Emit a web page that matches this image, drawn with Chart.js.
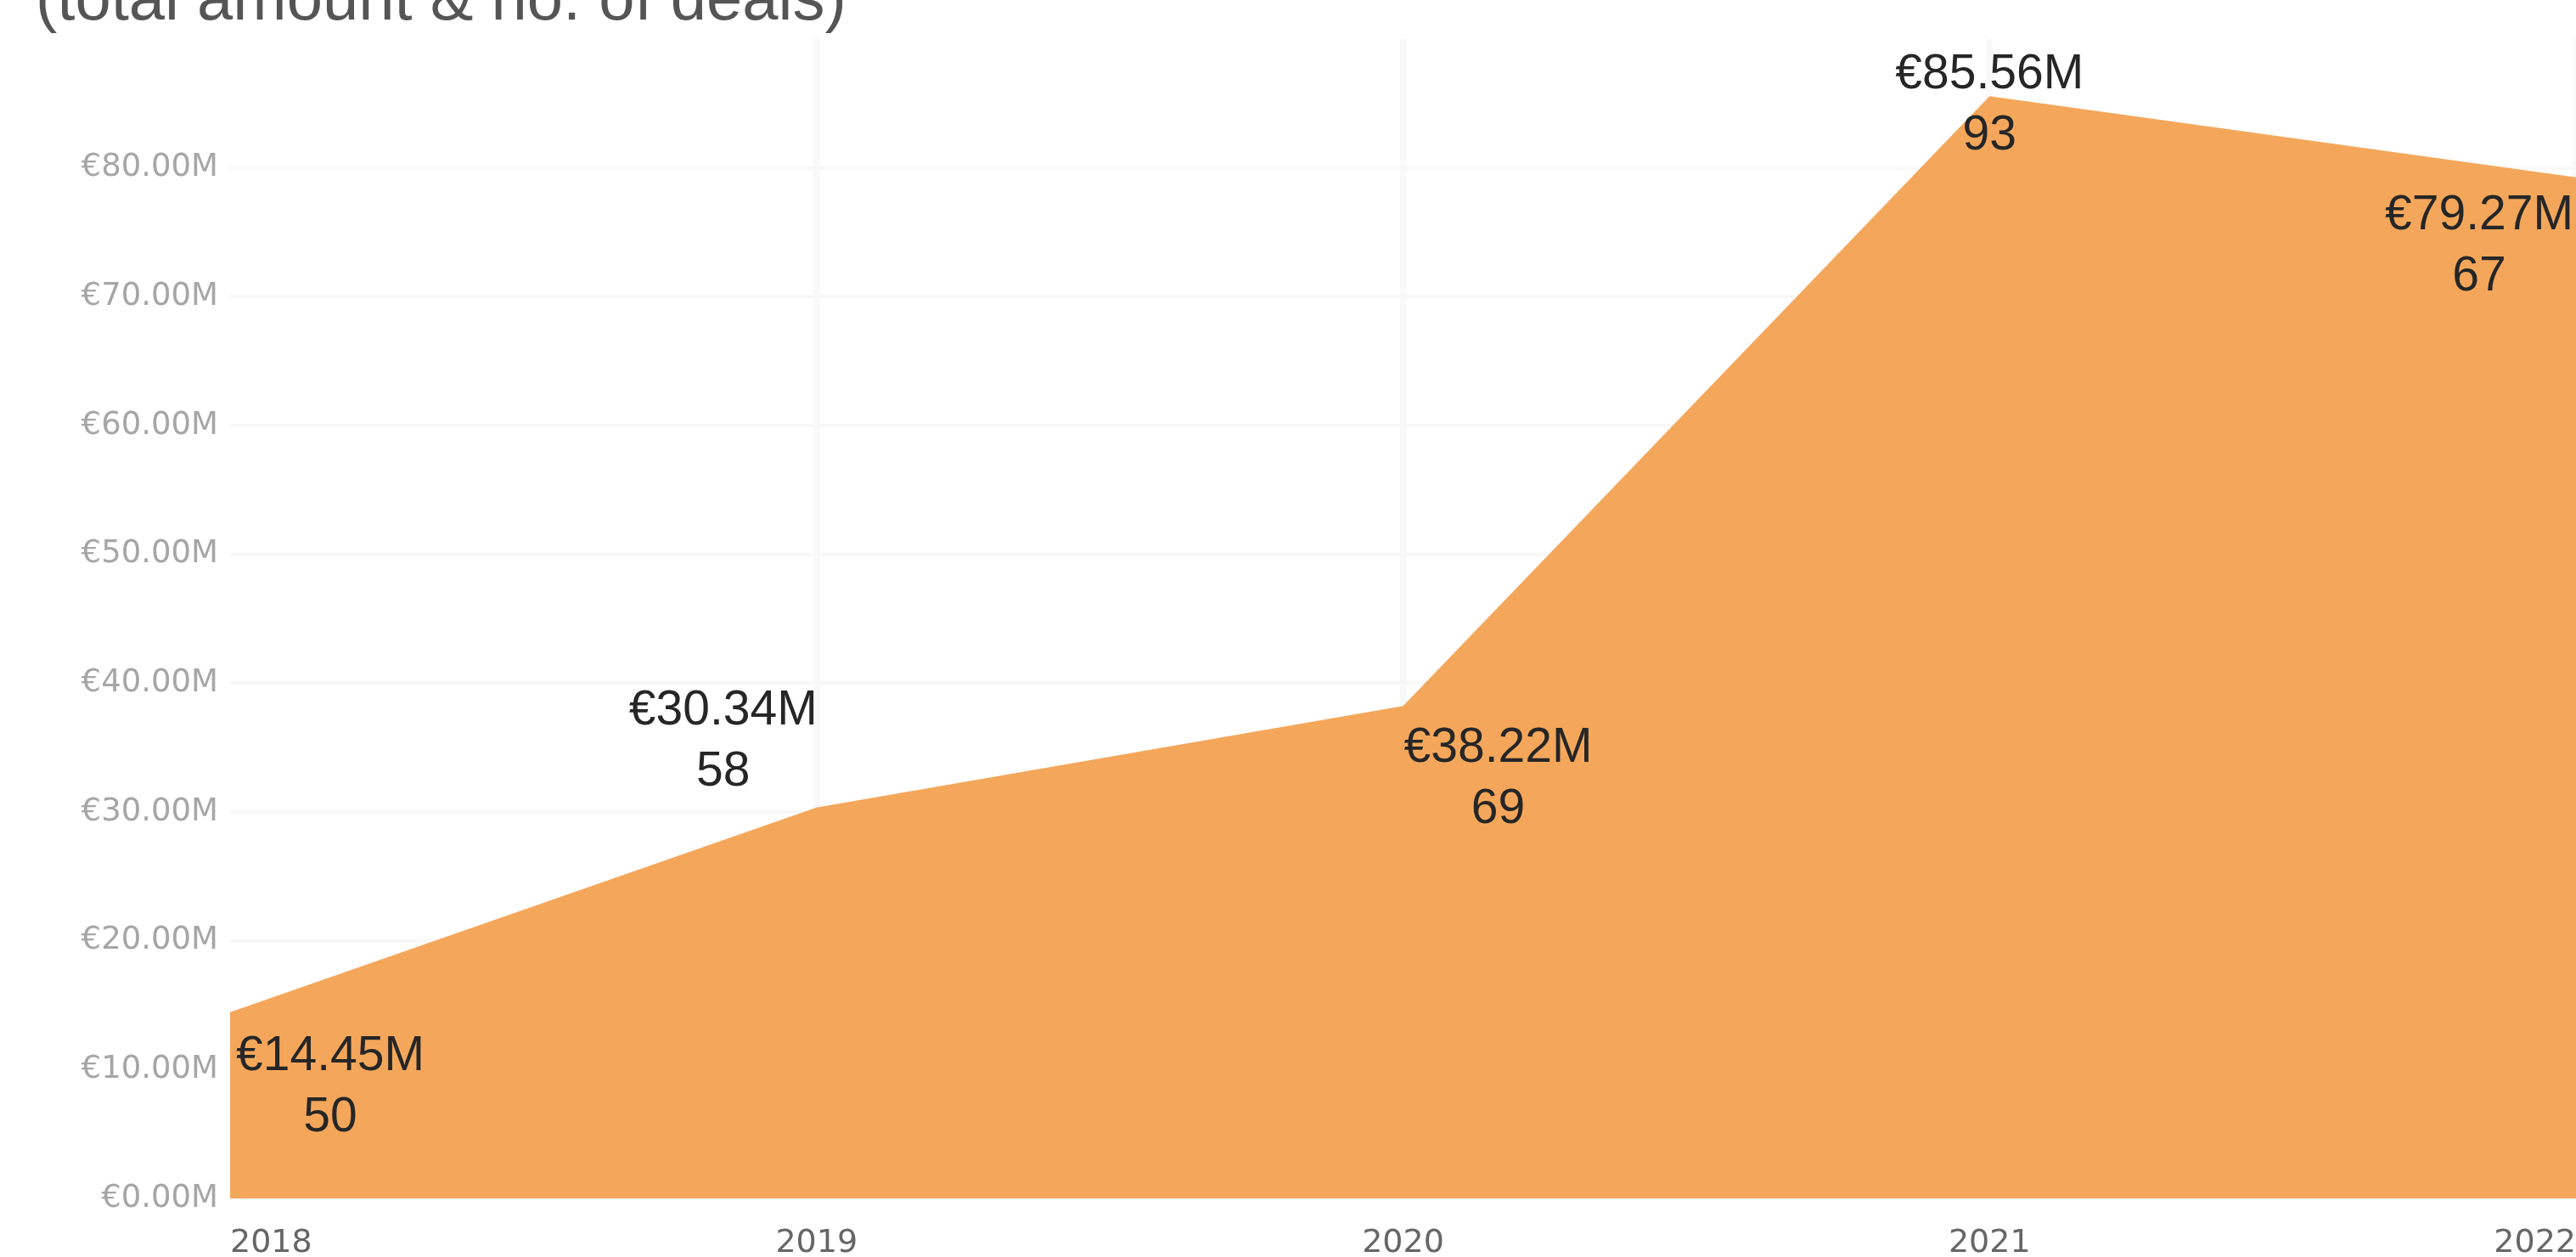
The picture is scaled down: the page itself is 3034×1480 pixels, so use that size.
<!DOCTYPE html>
<html>
<head>
<meta charset="utf-8">
<script src="https://cdn.jsdelivr.net/npm/chart.js@4"></script>
<style>
  html, body { margin: 0; padding: 0; background: #fff; overflow: hidden; }
  #wrap { position: absolute; left: 0; top: 0; width: 3094px; height: 1480px; }
  #title {
    position: absolute; left: 42px; top: -47px;
    font-family: "Liberation Sans", Arial, sans-serif; font-size: 76px;
    color: #555; white-space: nowrap;
  }
</style>
</head>
<body>
<div id="wrap"><canvas id="chart"></canvas></div>
<div id="title">(total amount &amp; no. of deals)</div>
<script>
// values
const years = ['2018', '2019', '2020', '2021', '2022'];
const amounts = [14.45, 30.34, 38.22, 85.56, 79.27]; // € millions
const deals = [50, 58, 69, 93, 67];
const Y_MAX = 90;
const Y_STEP = 10;

// where each two-line label sits relative to its point (px)
const labelOffsets = [
    { dx: 118, dy: 52 },
    { dx: -110, dy: -114 },
    { dx: 112, dy: 50 },
    { dx: 0, dy: -25 },
    { dx: -114, dy: 46 },
];

const fmtMoney = v => '€' + v.toFixed(2) + 'M';

const pointLabels = {
    id: 'pointLabels',
    afterDatasetsDraw(chart) {
        const ctx = chart.ctx;
        const meta = chart.getDatasetMeta(0);
        ctx.save();
        ctx.font = '57px "Liberation Sans", Arial, sans-serif';
        ctx.fillStyle = '#262626';
        ctx.textAlign = 'center';
        ctx.textBaseline = 'middle';
        meta.data.forEach((pt, i) => {
            const off = labelOffsets[i];
            ctx.fillText(fmtMoney(amounts[i]), pt.x + off.dx, pt.y + off.dy);
            ctx.fillText(String(deals[i]), pt.x + off.dx, pt.y + off.dy + 72);
        });
        ctx.restore();
    }
};

new Chart(document.getElementById('chart'), {
    type: 'line',
    data: {
        labels: years,
        datasets: [{
            data: amounts,
            fill: 'origin',
            backgroundColor: '#F4A75B',
            borderWidth: 0,
            pointRadius: 0,
            tension: 0,
        }],
    },
    options: {
        responsive: true,
        maintainAspectRatio: false,
        animation: false,
        layout: { padding: { top: 46, right: 60, left: 0, bottom: 0 } },
        plugins: {
            legend: { display: false },
            tooltip: { enabled: false },
        },
        scales: {
            x: {
                offset: false,
                border: { display: false },
                grid: {
                    color: ctx => ctx.index === 0 ? 'rgba(0,0,0,0)' : '#f9f9f9',
                    lineWidth: 8,
                    drawTicks: false,
                },
                ticks: {
                    padding: 30,
                    align: 'inner',
                    color: '#666',
                    font: { family: 'DejaVu Sans', size: 38 },
                },
                afterFit(scale) { scale.height = 69; },
            },
            y: {
                min: 0,
                max: Y_MAX,
                border: { display: false },
                grid: {
                    color: ctx => ctx.tick && ctx.tick.value >= Y_MAX ? 'rgba(0,0,0,0)' : '#f8f8f8',
                    lineWidth: 4,
                    drawTicks: false,
                },
                ticks: {
                    stepSize: Y_STEP,
                    padding: 14,
                    color: '#a6a6a6',
                    font: { family: 'DejaVu Sans', size: 37 },
                    callback: v => v < Y_MAX ? fmtMoney(v) : '',
                },
                afterFit(scale) { scale.width = 271; },
            },
        },
    },
    plugins: [pointLabels],
});
</script>
</body>
</html>
